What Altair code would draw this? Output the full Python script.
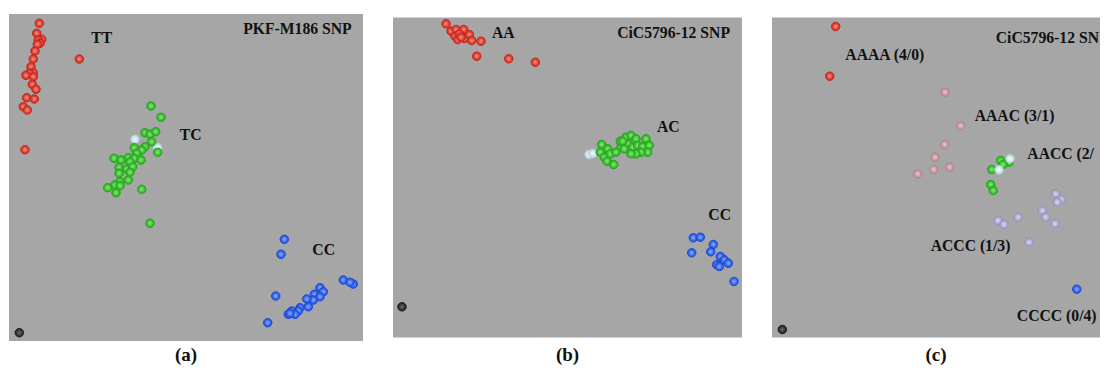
import altair as alt
import pandas as pd

BG = "#a6a6a6"
FONT = "Liberation Serif"
TXT = "#111111"

# plot-area sizes of the three panels (panel c is cut at the figure's right edge)
A_W, A_H = 354, 327
B_W, B_H = 349, 320
C_W, C_H = 328, 320

# ---------------- panel (a) PKF-M186 SNP ----------------
a_tt_x = [30.3, 27.7, 32.7, 29.3, 31, 28.3, 26, 24.3, 22, 24.3, 20.3, 17, 24.3, 23.3, 27, 17.7, 25.3, 14.3, 18.3, 16, 70.3]
a_tt_y = [9.3, 19.3, 25.3, 26, 29.3, 30.3, 37, 45, 52.7, 58.7, 59.3, 61.3, 62.7, 70.3, 75.3, 83.7, 85, 92.7, 96, 135.7, 45]
a_tc_x = [142, 152, 136, 141, 146.7, 142.7, 136, 132.7, 125.3, 148.7, 127.7, 105, 112, 119.3, 125.3, 132, 121, 110, 117.7, 123.7, 110, 121, 119.3, 111, 106, 98.7, 111, 107, 132.7, 141]
a_tc_y = [92, 103.3, 118.7, 120.3, 117.7, 127.7, 132.7, 136, 133.7, 138.3, 139.3, 144.3, 146, 143.7, 144.3, 146, 147.7, 153.3, 155, 152.7, 159.3, 158.3, 166, 167.7, 171, 173.7, 171.7, 178.7, 175.3, 209.3]
a_un_x = [126, 148.7]
a_un_y = [125.3, 133.7]
a_cc_x = [275.3, 272, 266.7, 258.7, 334.3, 344.3, 341, 311, 314.3, 305.3, 311, 304.3, 297.7, 299.3, 291, 289.3, 282.7, 279.3, 286, 281]
a_cc_y = [225.3, 240.3, 282, 308.7, 266, 270, 268.3, 273.7, 277.7, 280.3, 282.7, 286, 285, 292.7, 293.7, 297, 297, 300.3, 300.3, 299.3]
a_ntc_x = [10.3]
a_ntc_y = [318.7]
a_lab_text = ["TT", "TC", "CC"]
a_lab_x = [92.7, 181.7, 314.7]
a_lab_y = [24.3, 121, 236]
a_title = "PKF-M186 SNP"
a_title_xy = (342.7, 15.3)

# ---------------- panel (b) CiC5796-12 SNP ----------------
b_aa_x = [53, 58, 63, 70.7, 62, 66.3, 71.3, 76.3, 64.7, 78.7, 68, 88, 83.7, 115.7, 142.3]
b_aa_y = [6.3, 13.7, 12, 12, 18.7, 16.3, 21, 17, 22, 23, 19.7, 23.7, 38.7, 41.3, 44.7]
b_ac_x = [208.7, 207.3, 214.7, 211.3, 217.3, 214, 220.7, 223, 228, 227.3, 233, 238, 243, 234.7, 239.7, 244.7, 249.7, 253, 256.3, 254.7, 248, 243, 238, 231.3, 229.7]
b_ac_y = [127, 134.7, 131.3, 139.7, 136.3, 143.7, 147, 134.7, 129, 123.7, 119.7, 118, 121.3, 126.3, 129.7, 128, 129, 121.3, 128, 134.7, 134.7, 136.3, 136.3, 131.3, 123.7]
b_un_x = [196, 200]
b_un_y = [137, 136]
b_cc_x = [300.3, 307.3, 320.3, 298.7, 317.7, 327.3, 331.3, 335.3, 323.7, 326.3, 341]
b_cc_y = [220.3, 219.7, 227, 235.3, 234.3, 239, 242.3, 245.7, 247.3, 249, 264]
b_ntc_x = [9]
b_ntc_y = [289.3]
b_lab_text = ["AA", "AC", "CC"]
b_lab_x = [110.3, 275.3, 326.7]
b_lab_y = [15.3, 109.7, 197.3]
b_title = "CiC5796-12 SNP"
b_title_xy = (337, 15.3)

# ---------------- panel (c) CiC5796-12 SNP, tetraploid ----------------
c_aaaa_x = [63.7, 57.7]
c_aaaa_y = [9, 58.7]
c_aaac_x = [173, 188.7, 172.7, 163, 177.7, 161.7, 145.7]
c_aaac_y = [74.7, 108.3, 127, 139.7, 149.7, 152, 156.3]
c_aacc_x = [228.7, 237, 231, 219.7, 218.7, 221.3]
c_aacc_y = [143, 144.7, 147, 152, 167, 173]
c_un_x = [238, 227]
c_un_y = [141.3, 152.3]
c_accc_x = [283.7, 289.3, 285.3, 270.3, 273.7, 283, 246, 226, 232, 257]
c_accc_y = [176.3, 182, 184.7, 193, 199.7, 206.3, 199.7, 203, 207, 224.7]
c_cccc_x = [304.7, 337.5]   # the second one sits at the cut edge of the figure
c_cccc_y = [271.7, 246.3]
c_ntc_x = [10.3]
c_ntc_y = [312]
c_lab_text = ["AAAA (4/0)", "AAAC (3/1)", "ACCC (1/3)", "CCCC (0/4)"]
c_lab_x = [112.8, 242.5, 198.5, 284.7]
c_lab_y = [37, 98, 228.7, 298]
# labels that run into the cut right edge (left-aligned, truncated at the edge)
c_edge_text = ["AACC (2/2)", "CiC5796-12 SNP"]
c_edge_x = [255.3, 223.7]
c_edge_y = [136.3, 20.3]

# colours: (highlight, body, rim)
RED = ("#f39a90", "#e5483c", "#c42a1f")
GREEN = ("#95e285", "#46c93b", "#27a61d")
BLUE = ("#92b2ff", "#4070f0", "#1f4ad6")
UNDET = ("#f4fbfc", "#d3e9ed", "#b6d2d8")
PINK = ("#e6c8cc", "#cda2a8", "#b2868e")
LAV = ("#d8d8ee", "#b5b5d6", "#9696c0")
NTC = ("#707070", "#3d3d3d", "#1e1e1e")

LABEL_SIZE = 15.7
POINT_SIZE = 72


def scales(W, H):
    sx = alt.Scale(domain=[0, W], nice=False, zero=False)
    sy = alt.Scale(domain=[0, H], nice=False, zero=False, reverse=True)
    return sx, sy


def pts(xs, ys, col, W, H):
    sx, sy = scales(W, H)
    hi, body, rim = col
    grad = alt.RadialGradient(
        gradient="radial",
        stops=[
            alt.GradientStop(color=hi, offset=0),
            alt.GradientStop(color=body, offset=0.6),
            alt.GradientStop(color=rim, offset=1),
        ],
    )
    df = pd.DataFrame({"x": xs, "y": ys})
    return alt.Chart(df).transform_filter(
        f"datum.x <= {W}"
    ).mark_point(
        filled=True, fill=grad, stroke=rim, strokeWidth=1, size=POINT_SIZE,
        opacity=1,
    ).encode(
        x=alt.X("x:Q", scale=sx, axis=None),
        y=alt.Y("y:Q", scale=sy, axis=None),
    )


def labels(texts, xs, ys, align, W, H, limit=None):
    sx, sy = scales(W, H)
    df = pd.DataFrame({"t": texts, "x": xs, "y": ys})
    kw = dict(font=FONT, fontWeight="bold", fontSize=LABEL_SIZE, color=TXT,
              align=align, baseline="middle")
    if limit is not None:
        kw.update(limit=limit, ellipsis="\u200b")
    return alt.Chart(df).mark_text(**kw).encode(
        x=alt.X("x:Q", scale=sx, axis=None),
        y=alt.Y("y:Q", scale=sy, axis=None),
        text="t:N",
    )


def caption(letter, offset):
    return alt.TitleParams(
        f"({letter})", orient="bottom", anchor="middle", offset=offset,
        font=FONT, fontSize=19, fontWeight="bold", color=TXT,
    )


panel_a = alt.layer(
    pts(a_tt_x, a_tt_y, RED, A_W, A_H),
    pts(a_un_x, a_un_y, UNDET, A_W, A_H),
    pts(a_tc_x, a_tc_y, GREEN, A_W, A_H),
    pts(a_cc_x, a_cc_y, BLUE, A_W, A_H),
    pts(a_ntc_x, a_ntc_y, NTC, A_W, A_H),
    labels(a_lab_text, a_lab_x, a_lab_y, "center", A_W, A_H),
    labels([a_title], [a_title_xy[0]], [a_title_xy[1]], "right", A_W, A_H),
).properties(width=A_W, height=A_H, title=caption("a", 4.5))

panel_b = alt.layer(
    pts(b_aa_x, b_aa_y, RED, B_W, B_H),
    pts(b_un_x, b_un_y, UNDET, B_W, B_H),
    pts(b_ac_x, b_ac_y, GREEN, B_W, B_H),
    pts(b_cc_x, b_cc_y, BLUE, B_W, B_H),
    pts(b_ntc_x, b_ntc_y, NTC, B_W, B_H),
    labels(b_lab_text, b_lab_x, b_lab_y, "center", B_W, B_H),
    labels([b_title], [b_title_xy[0]], [b_title_xy[1]], "right", B_W, B_H),
).properties(width=B_W, height=B_H, title=caption("b", 8))

panel_c = alt.layer(
    pts(c_aaaa_x, c_aaaa_y, RED, C_W, C_H),
    pts(c_aaac_x, c_aaac_y, PINK, C_W, C_H),
    pts(c_aacc_x, c_aacc_y, GREEN, C_W, C_H),
    pts(c_un_x, c_un_y, UNDET, C_W, C_H),
    pts(c_accc_x, c_accc_y, LAV, C_W, C_H),
    pts(c_cccc_x, c_cccc_y, BLUE, C_W, C_H),
    pts(c_ntc_x, c_ntc_y, NTC, C_W, C_H),
    labels(c_lab_text, c_lab_x, c_lab_y, "center", C_W, C_H),
    labels(c_edge_text[:1], c_edge_x[:1], c_edge_y[:1], "left", C_W, C_H,
           limit=C_W - c_edge_x[0]),
    labels(c_edge_text[1:], c_edge_x[1:], c_edge_y[1:], "left", C_W, C_H,
           limit=C_W - c_edge_x[1]),
).properties(width=C_W, height=C_H, title=caption("c", 8))

chart = alt.hconcat(
    panel_a, panel_b, panel_c, spacing=30, bounds="flush", center=True
).properties(
    padding={"left": 1, "top": 6, "right": 0, "bottom": 0}
).configure_view(fill=BG, strokeWidth=0)

chart.save("out.html", embed_options={"renderer": "svg", "actions": False})
